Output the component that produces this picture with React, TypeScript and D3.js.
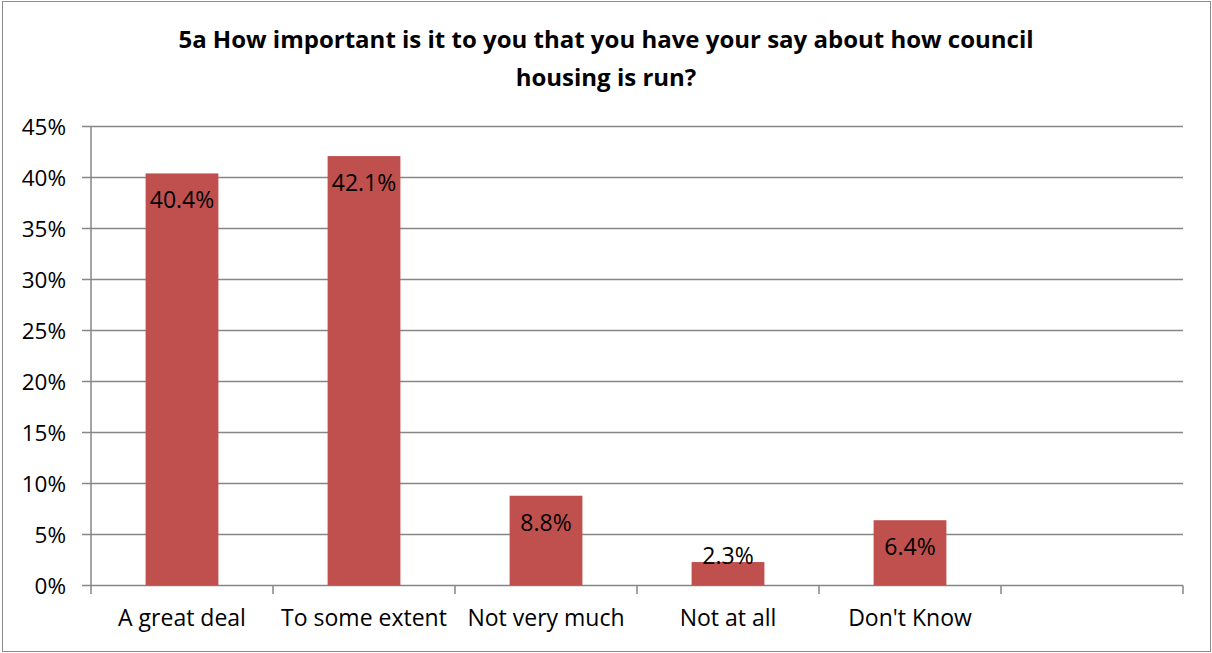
import React, { useEffect } from "react";
import * as d3 from "d3";

const categories = ["A great deal", "To some extent", "Not very much", "Not at all", "Don't Know", ""];
const values: (number | null)[] = [40.4, 42.1, 8.8, 2.3, 6.4, null];
const yTicks = [0, 5, 10, 15, 20, 25, 30, 35, 40, 45];
const titleLines = [
  "5a How important is it to you that you have your say about how council",
  "housing is run?",
];

const W = 1212;
const H = 653;
const FONT = "'Open Sans', 'Liberation Sans', sans-serif";

export default function App() {
  useEffect(() => {
    document.body.style.margin = "0";
  }, []);

  const left = 91;
  const right = 1183;
  const top = 126.5;
  const bottom = 585.5;

  const keys = categories.map((c, i) => i + ":" + c);
  const x = d3.scaleBand<string>().domain(keys).range([left, right]).paddingInner(0).paddingOuter(0);
  const y = d3.scaleLinear().domain([0, 45]).range([bottom, top]);
  const bw = x.bandwidth() * 0.4;
  const grid = "#868686";

  return (
    <svg width={W} height={H} style={{ display: "block" }} fontFamily={FONT}>
      <rect x={0} y={0} width={W} height={H} fill="#fff" />
      <rect x={2.5} y={1.5} width={1208} height={650} fill="none" stroke="#8c8c8c" strokeWidth={1} />
      {titleLines.map((t, i) => (
        <text key={i} x={606} y={48 + i * 38} textAnchor="middle" fontWeight="bold" fontSize={24} fill="#000">
          {t}
        </text>
      ))}
      {yTicks.map((t) => (
        <g key={t}>
          <line x1={82} x2={right} y1={y(t)} y2={y(t)} stroke={grid} strokeWidth={1.5} />
          <text x={66} y={y(t) + 8} textAnchor="end" fontSize={22.5} fill="#000">
            {t}%
          </text>
        </g>
      ))}
      <line x1={left} x2={left} y1={top} y2={bottom} stroke={grid} strokeWidth={1.5} />
      {keys.map((k, i) => (
        <line key={"t" + i} x1={x(k)!} x2={x(k)!} y1={bottom} y2={594} stroke={grid} strokeWidth={1.5} />
      ))}
      <line x1={right} x2={right} y1={bottom} y2={594} stroke={grid} strokeWidth={1.5} />
      {keys.map((k, i) => {
        const v = values[i];
        if (v == null) return null;
        const cx = x(k)! + x.bandwidth() / 2;
        const yt = y(v);
        const base = Math.min(yt + 35, bottom - 21.5);
        return (
          <g key={"b" + i}>
            <rect x={cx - bw / 2} y={yt} width={bw} height={bottom - yt} fill="#C0504D" />
            <text x={cx} y={base} textAnchor="middle" fontSize={23} fill="#000">
              {v.toFixed(1)}%
            </text>
          </g>
        );
      })}
      {keys.map((k, i) => (
        <text key={"c" + i} x={x(k)! + x.bandwidth() / 2} y={626} textAnchor="middle" fontSize={23} fill="#000">
          {categories[i]}
        </text>
      ))}
    </svg>
  );
}
